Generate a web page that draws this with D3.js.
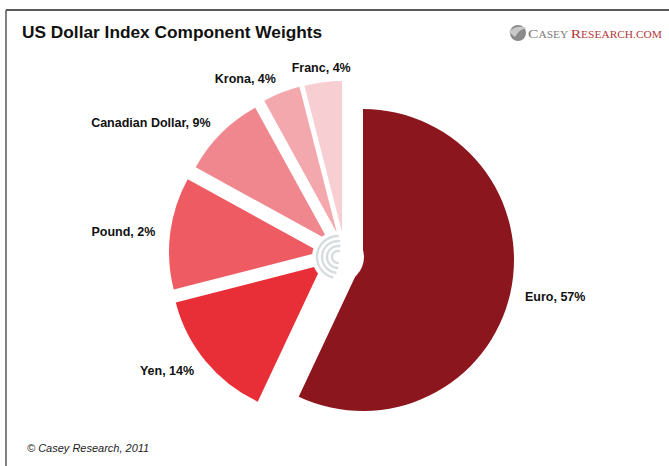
<!DOCTYPE html>
<html>
<head>
<meta charset="utf-8">
<script src="https://cdn.jsdelivr.net/npm/d3@7"></script>
<style>
  body { margin: 0; background: #fff; }
  svg { display: block; font-family: "Liberation Sans", Arial, sans-serif; }
</style>
</head>
<body>
<script>
// data
const currencies = ["Euro", "Yen", "Pound", "Canadian Dollar", "Krona", "Franc"];
const weights = [57, 14, 12, 9, 4, 4];        // slice sizes
const labelPct = [57, 14, 2, 9, 4, 4];        // percentages as printed on the chart
const colors = ["#8c161d", "#e82f38", "#ee5b63", "#f0878f", "#f3a8ae", "#f7ced2"];
// how far each slice is pulled out of the pie (px)
const explode = [[0, 0], [-41, 5], [-43, -8], [-35, -20], [-26, -27], [-21, -28]];

const width = 669, height = 466;
const cx = 363, cy = 260, radius = 151;

let svg = d3.select("body").append("svg")
    .attr("width", width)
    .attr("height", height);

// frame
svg.append("line").attr("x1", 6).attr("x2", width).attr("y1", 10).attr("y2", 10)
    .attr("stroke", "#5a5a5a").attr("stroke-width", 2);
svg.append("line").attr("x1", 6).attr("x2", 6).attr("y1", 10).attr("y2", height)
    .attr("stroke", "#5a5a5a").attr("stroke-width", 1.5);

// title
svg.append("text")
    .attr("x", 22).attr("y", 38)
    .attr("font-size", 17.3).attr("font-weight", "bold")
    .attr("fill", "#111")
    .text("US Dollar Index Component Weights");

// logo, top right
let logo = svg.append("g").attr("transform", "translate(518,33)");
logo.append("circle").attr("r", 8).attr("fill", "#8a8a8a");
logo.append("path").attr("d", "M-9,-1 Q-2,-9 9,-5 Q1,-4 -3,4 Z").attr("fill", "#c9c9c9");
let lt = logo.append("text").attr("x", 10).attr("y", 4.5)
    .attr("font-family", "'Liberation Serif', 'DejaVu Serif', serif")
    .attr("textLength", 134).attr("lengthAdjust", "spacingAndGlyphs");
lt.append("tspan").attr("font-size", 13).attr("fill", "#7b7b7b").text("C");
lt.append("tspan").attr("font-size", 9.5).attr("fill", "#7b7b7b").text("ASEY ");
lt.append("tspan").attr("font-size", 13).attr("fill", "#b3393d").text("R");
lt.append("tspan").attr("font-size", 9.5).attr("fill", "#b3393d").text("ESEARCH.COM");

// pie
let data = currencies.map((c, i) => ({name: c, w: weights[i], pct: labelPct[i], color: colors[i], off: explode[i]}));

let pie = d3.pie()
    .sort(null)
    .value(d => d.w);

let arc = d3.arc()
    .innerRadius(0)
    .outerRadius(radius);

let slices = svg.append("g")
    .attr("transform", "translate(" + cx + "," + cy + ")")
    .selectAll(".arc")
    .data(pie(data))
    .enter().append("g")
    .attr("class", "arc")
    .attr("transform", d => "translate(" + d.data.off[0] + "," + d.data.off[1] + ")");

slices.append("path")
    .attr("d", arc)
    .attr("fill", d => d.data.color);

// labels sit just outside each slice, on its bisector
slices.append("text")
    .each(function(d) {
        let a = (d.startAngle + d.endAngle) / 2;
        let r = radius + 15;
        let s = Math.sin(a);
        d3.select(this)
            .attr("x", r * s)
            .attr("y", -r * Math.cos(a))
            .attr("text-anchor", Math.abs(s) < 0.2 ? "middle" : (s < 0 ? "end" : "start"));
    })
    .attr("dy", "0.35em")
    .attr("font-size", 12.5)
    .attr("font-weight", "bold")
    .attr("fill", "#111")
    .text(d => d.data.name + ", " + d.data.pct + "%");

// watermark logo in the middle
let wm = svg.append("g").attr("transform", "translate(338,257)");
wm.append("circle").attr("r", 26).attr("fill", "#fff");
[6, 11, 16, 21].forEach((r, i) => {
    wm.append("path")
        .attr("d", d3.arc().innerRadius(r - 1.2).outerRadius(r + 1.2)
            .startAngle(Math.PI * (0.95 + i * 0.04)).endAngle(Math.PI * (2.1 - i * 0.03))())
        .attr("fill", "#d6dcdf");
});

// footer
svg.append("text")
    .attr("x", 27).attr("y", 452)
    .attr("font-size", 11).attr("font-style", "italic")
    .attr("fill", "#222")
    .text("\u00a9 Casey Research, 2011");
</script>
</body>
</html>
